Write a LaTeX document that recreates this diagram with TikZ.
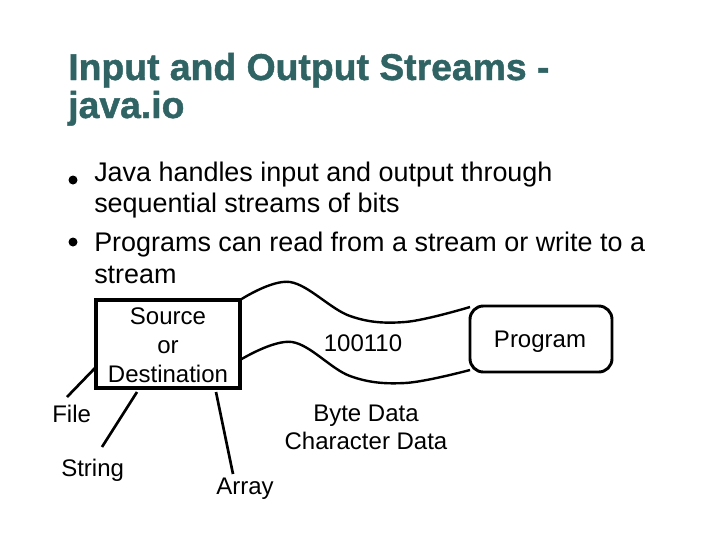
\documentclass[tikz,border=0pt]{standalone}
\usepackage{fontspec}
\setmainfont{Liberation Sans}
\newfontfamily\titlefont[FakeBold=1.2]{Liberation Sans Bold}
\definecolor{titleteal}{RGB}{48,100,100}
\begin{document}
\begin{tikzpicture}[x=0.75pt,y=-0.75pt,
  txt/.style={inner sep=0pt,font=\fontsize{20.2}{24}\selectfont},
  lbl/.style={inner sep=0pt,font=\fontsize{18}{22}\selectfont},
  ttl/.style={inner sep=0pt,text=titleteal,font=\titlefont\fontsize{28}{32}\selectfont},
  boxthick/.style={draw,line width=2.8pt},
  wire/.style={line width=2pt},
  curve/.style={line width=1.8pt}]
\useasboundingbox (0,0) rectangle (720,540);
% title
\node[ttl,anchor=base west] (t1) at (68,80) {Input and Output Streams -};
\node[ttl,anchor=base west] (t2) at (68,118) {java.io};
% bullets
\fill (73,180) circle (4.5);
\fill (73,242) circle (4.5);
\node[txt,anchor=base west] (b1) at (94,181) {Java handles input and output through};
\node[txt,anchor=base west] (b2) at (94,212) {sequential streams of bits};
\node[txt,anchor=base west] (b3) at (94,251) {Programs can read from a stream or write to a};
\node[txt,anchor=base west] (b4) at (94,283) {stream};
% stream
\draw[curve] plot[smooth,tension=0.6] coordinates {(240,300) (290,282) (350,316) (405,322) (470,307)};
\draw[curve] plot[smooth,tension=0.6] coordinates {(240,360) (292,342) (350,376) (405,383) (470,370)};
% source box
\draw[boxthick,fill=white] (96,300) rectangle (240,388);
\node[lbl,anchor=base] (s1) at (168,324) {Source};
\node[lbl,anchor=base] (s2) at (168,353) {or};
\node[lbl,anchor=base] (s3) at (168,382) {Destination};
% program box
\node[draw,line width=2.2pt,rounded corners=10pt,minimum width=142*0.75pt,minimum height=66*0.75pt,fill=white] (prog) at (541,339) {};
\node[lbl,anchor=base] (pt) at (540,347) {Program};
\node[lbl,anchor=base] (bits) at (363,351) {100110};
\node[lbl,anchor=base] (bd) at (366,421) {Byte Data};
\node[lbl,anchor=base] (cd) at (366,449) {Character Data};
% labels
\node[lbl,anchor=base west] (file) at (52,422) {File};
\node[lbl,anchor=base west] (str) at (61,476) {String};
\node[lbl,anchor=base west] (arr) at (216,494) {Array};
\coordinate (f0) at (96,367);
\coordinate (f1) at (67,397);
\coordinate (g0) at (137,392);
\coordinate (g1) at (102,447);
\coordinate (a0) at (216,392);
\coordinate (a1) at (233,474);
\draw[wire] (f0) -- (f1);
\draw[wire] (g0) -- (g1);
\draw[wire] (a0) -- (a1);
\end{tikzpicture}
\end{document}
